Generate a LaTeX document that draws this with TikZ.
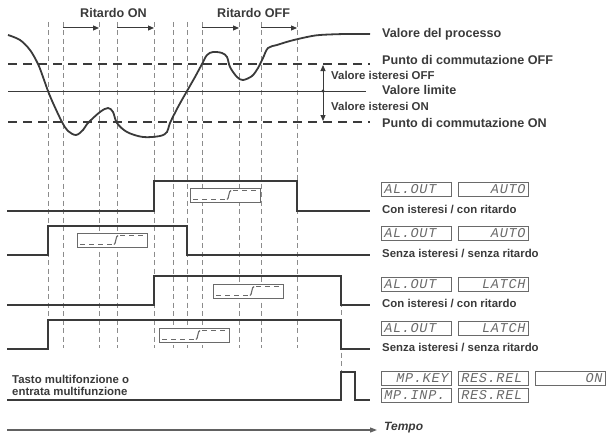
\documentclass[tikz,border=0pt]{standalone}
\usepackage{fontspec}
\setmainfont{Liberation Sans}
\newfontfamily\lcdfont[LetterSpace=5]{Liberation Mono}
\usetikzlibrary{arrows.meta}
\definecolor{dgray}{HTML}{3A3A3A}
\definecolor{vgray}{HTML}{8C8C8C}
\definecolor{lgray}{HTML}{6A6A6A}
\begin{document}
\begin{tikzpicture}[x=1pt,y=-1pt,
  vdash/.style={draw=vgray, line width=0.9pt, dash pattern=on 5pt off 3.5pt},
  hdash/.style={draw=dgray, line width=1.2pt, dash pattern=on 9pt off 6pt},
  wave/.style={draw=dgray, line width=1.8pt, line join=miter},
  lbl/.style={font=\bfseries\fontsize{12.6}{14}\selectfont, anchor=west, inner sep=0pt, text=dgray},
  sublbl/.style={font=\bfseries\fontsize{11.4}{13}\selectfont, anchor=west, inner sep=0pt, text=dgray},
  lcdbox/.style={draw=lgray, line width=0.8pt, minimum height=14pt, text width=64pt, inner xsep=3pt, inner ysep=0pt, anchor=north west, font=\lcdfont\itshape\fontsize{13.5}{13}\selectfont, text=lgray},
  lcdr/.style={lcdbox, align=right},
  lcdl/.style={lcdbox, align=left},
  delay/.style={draw=dgray, line width=1pt, -{Triangle[length=6pt,width=5pt]}},
  hyst/.pic={
    \draw[fill=white, draw=lgray, line width=0.8pt] (0,0) rectangle (70,14);
    \draw[draw=lgray, line width=1.4pt, dash pattern=on 5pt off 4pt] (3,11.5) -- (38,11.5);
    \draw[draw=lgray, line width=1.1pt] (37,11.5) .. controls (39,11.5) and (38.5,2.5) .. (41,2.5);
    \draw[draw=lgray, line width=1.4pt, dash pattern=on 5pt off 4pt] (43,2.5) -- (68,2.5);
  }]
\useasboundingbox (0,0) rectangle (607,436);

% vertical dashed guide lines
\foreach \x in {48,63,99,117,154,173,187,202,239,261,297}
  \draw[vdash] (\x,22) -- (\x,348);
\draw[vdash] (341,276) -- (341,372);

% horizontal reference lines
\draw[hdash] (8,64) -- (370,64);
\draw[draw=dgray, line width=1pt] (8,91) -- (366,91);
\draw[hdash] (8,122) -- (370,122);

% delay arrows
\node[lbl] (ron) at (80,13) {Ritardo ON};
\node[lbl] (roff) at (217,13) {Ritardo OFF};
\coordinate (a1) at (63,28); \coordinate (b1) at (99,28);
\coordinate (a2) at (117,28); \coordinate (b2) at (154,28);
\coordinate (a3) at (202,28); \coordinate (b3) at (239,28);
\coordinate (a4) at (261,28); \coordinate (b4) at (297,28);
\draw[delay] (a1) -- (b1);
\draw[delay] (a2) -- (b2);
\draw[delay] (a3) -- (b3);
\draw[delay] (a4) -- (b4);

% process curve
\draw[draw=dgray, line width=1.8pt] plot[smooth, tension=0.55] coordinates {
 (8,35) (20,40) (30,50) (38,64) (43,77) (48,91) (53,103) (62,122) (68,131) (76,135)
 (83,130) (88,123) (100,112) (108,108) (113,112) (117,123) (127,132) (143,137)
 (160,136) (167,132) (170,123) (178,107) (187,91) (195,77) (202,64) (207,55)
 (213,52) (222,53) (227,57) (230,67) (237,77) (243,80) (252,76) (258,68)
 (263,58) (268,48) (277,45) (290,41) (307,37) (320,35) (345,34) (370,34)};

% hysteresis arrow
\coordinate (hT) at (323,65);
\coordinate (hM) at (323,91);
\coordinate (hB) at (323,121);
\draw[draw=dgray, line width=0.9pt, {Triangle[length=6pt,width=5pt]}-{Triangle[length=6pt,width=5pt]}] (hT) -- (hB);
\fill[dgray] (hM) circle (1.6pt);

% right labels top
\node[lbl] (vp) at (382,34) {Valore del processo};
\node[lbl] (poff) at (382,60) {Punto di commutazione OFF};
\node[sublbl] (ioff) at (331,75) {Valore isteresi OFF};
\node[lbl] (vl) at (382,90) {Valore limite};
\node[sublbl] (ion) at (331,106) {Valore isteresi ON};
\node[lbl] (pon) at (382,123) {Punto di commutazione ON};

% waveforms
\draw[wave] (7,211) -- (154,211) -- (154,181) -- (297,181) -- (297,211) -- (370,211);
\draw[wave] (7,255) -- (48,255) -- (48,226) -- (187,226) -- (187,255) -- (370,255);
\draw[wave] (7,305) -- (154,305) -- (154,276) -- (341,276) -- (341,305) -- (370,305);
\draw[wave] (7,349) -- (48,349) -- (48,320) -- (341,320) -- (341,349) -- (370,349);
\draw[wave] (7,400) -- (341,400) -- (341,372) -- (355,372) -- (355,400) -- (370,400);

% hysteresis mini boxes
\pic at (190,188) {hyst};
\pic at (77,233) {hyst};
\pic at (213,284) {hyst};
\pic at (159,328) {hyst};

% LCD rows
\node[lcdl] (l1a) at (381,182) {AL.OUT};
\node[lcdr] (l1b) at (458,182) {AUTO};
\node[sublbl] (t1) at (382,209) {Con isteresi / con ritardo};
\node[lcdl] (l2a) at (381,226) {AL.OUT};
\node[lcdr] (l2b) at (458,226) {AUTO};
\node[sublbl] (t2) at (382,253) {Senza isteresi / senza ritardo};
\node[lcdl] (l3a) at (381,277) {AL.OUT};
\node[lcdr] (l3b) at (458,277) {LATCH};
\node[sublbl] (t3) at (382,303) {Con isteresi / con ritardo};
\node[lcdl] (l4a) at (381,321) {AL.OUT};
\node[lcdr] (l4b) at (458,321) {LATCH};
\node[sublbl] (t4) at (382,347) {Senza isteresi / senza ritardo};
\node[lcdr] (l5a) at (381,371) {MP.KEY};
\node[lcdl] (l5b) at (458,371) {RES.REL};
\node[lcdr] (l5c) at (535,371) {ON};
\node[lcdl] (l6a) at (381,388) {MP.INP.};
\node[lcdl] (l6b) at (458,388) {RES.REL};

% multifunction label
\node[sublbl] (mf1) at (12,379) {Tasto multifonzione o};
\node[sublbl] (mf2) at (12,391) {entrata multifunzione};

% time axis
\coordinate (t0) at (7,430);
\coordinate (t1e) at (377,430);
\draw[draw=dgray!80, line width=1.2pt, -{Triangle[length=7pt,width=5pt]}] (t0) -- (t1e);
\node[lbl, font=\bfseries\itshape\fontsize{12}{14}\selectfont] (tempo) at (384,428) {Tempo};
\end{tikzpicture}
\end{document}
